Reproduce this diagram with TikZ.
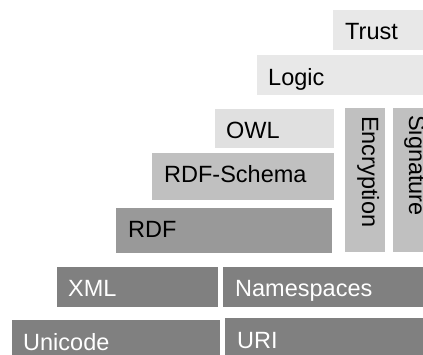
\documentclass[tikz,border=0pt]{standalone}
\usepackage{fontspec}
\setmainfont{Liberation Sans}

\definecolor{toplayer}{HTML}{E8E8E8}
\definecolor{owlgray}{HTML}{E0E0E0}
\definecolor{midgray}{HTML}{C0C0C0}
\definecolor{rdfgray}{HTML}{999999}
\definecolor{basegray}{HTML}{808080}

\tikzset{
	lbl/.style={anchor=base west, inner sep=0pt, font=\fontsize{23.5}{28}\selectfont},
	vlbl/.style={lbl, rotate=-90},
	baselbl/.style={lbl, text=white}
}

\begin{document}
\begin{tikzpicture}[x=1pt,y=-1pt]
		\useasboundingbox (0,0) rectangle (423,354);
		\clip (0,0) rectangle (423,354);

		% Upper layers
		\fill[toplayer] (333,10) rectangle (430,50);
		\fill[toplayer] (257,55) rectangle (430,95);
		\fill[owlgray] (215,109) rectangle (334,148);
		\fill[midgray] (152,153) rectangle (334,200);
		\fill[rdfgray] (116,208) rectangle (332,253);

		% Side columns
		\fill[midgray] (345,108) rectangle (385,252);
		\fill[midgray] (393,108) rectangle (430,252);

		% Base layers
		\fill[basegray] (57,267) rectangle (218,307);
		\fill[basegray] (223,267) rectangle (430,307);
		\fill[basegray] (12,320) rectangle (220,360);
		\fill[basegray] (225,318) rectangle (430,360);

		\node[lbl] (trust) at (345,39) {Trust};
		\node[lbl] (logic) at (268,85) {Logic};
		\node[lbl] (owl) at (226,138) {OWL};
		\node[lbl] (rdfs) at (164,182) {RDF-Schema};
		\node[lbl] (rdf) at (128,237) {RDF};
		\node[vlbl] (encr) at (362,116) {Encryption};
		\node[vlbl] (sign) at (409,115) {Signature};
		\node[baselbl] (xml) at (68,296) {XML};
		\node[baselbl] (ns) at (235,296) {Namespaces};
		\node[baselbl] (unicode) at (23,350) {Unicode};
		\node[baselbl] (uri) at (237,348) {URI};
	\end{tikzpicture}
\end{document}
